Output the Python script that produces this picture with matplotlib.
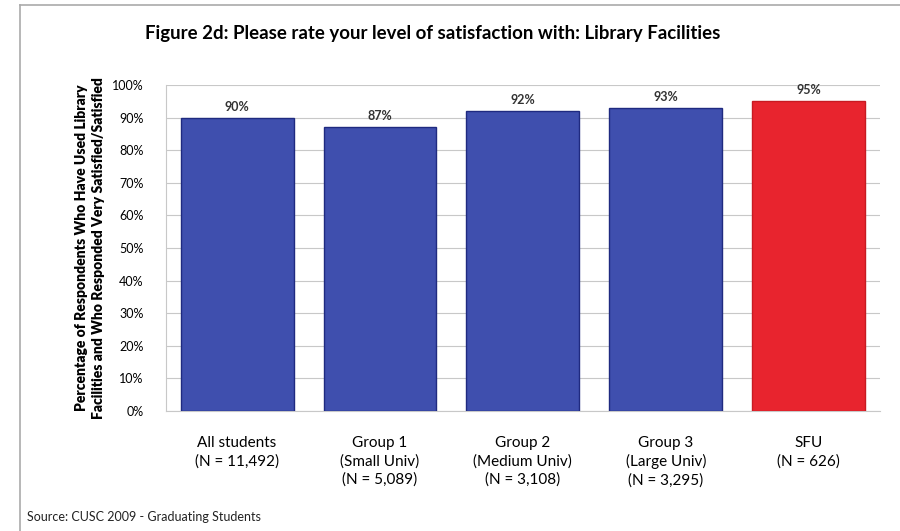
import matplotlib.pyplot as plt
from matplotlib.ticker import PercentFormatter
from matplotlib.lines import Line2D

categories = ["All students\n(N = 11,492)", "Group 1\n(Small Univ)\n(N = 5,089)",
              "Group 2\n(Medium Univ)\n(N = 3,108)", "Group 3\n(Large Univ)\n(N = 3,295)",
              "SFU\n(N = 626)"]
values = [90, 87, 92, 93, 95]
colors = ["#3f4fae", "#3f4fae", "#3f4fae", "#3f4fae", "#e8242e"]
edges = ["#1f2a80", "#1f2a80", "#1f2a80", "#1f2a80", "#c81a22"]

plt.rcParams["font.family"] = ["Lato", "DejaVu Sans"]

fig = plt.figure(figsize=(9, 5.31), dpi=100)
ax = fig.add_axes([0.184, 0.226, 0.794, 0.614])

x = range(len(categories))
ax.bar(x, values, width=0.79, color=colors, edgecolor=edges, linewidth=1, zorder=3)
for i, v in enumerate(values):
    ax.text(i, v + 1.5, f"{v}%", ha="center", va="bottom", fontsize=9,
            fontweight="bold", color="#333333")

ax.set_xlim(-0.5, len(categories) - 0.5)
ax.set_ylim(0, 100)
ax.set_yticks(range(0, 101, 10))
ax.yaxis.set_major_formatter(PercentFormatter(decimals=0))
ax.set_xticks(list(x))
ax.set_xticklabels(categories, fontsize=11, linespacing=1.35)
ax.tick_params(axis="x", length=0, pad=18)
ax.tick_params(axis="y", length=0, labelsize=9, pad=16)
ax.grid(axis="y", color="#c8c8c8", linewidth=0.8, zorder=0)
for s in ["top", "right", "bottom", "left"]:
    ax.spines[s].set_visible(False)
ax.spines["left"].set_visible(True)
ax.spines["left"].set_color("#c8c8c8")
ax.spines["bottom"].set_visible(True)
ax.spines["bottom"].set_color("#c8c8c8")

ax.set_ylabel("Percentage of Respondents Who Have Used Library\n"
              "Facilities and Who Responded Very Satisfied/Satisfied",
              fontsize=10, fontweight="heavy", labelpad=5, linespacing=1.35)

fig.text(0.481, 0.936, "Figure 2d: Please rate your level of satisfaction with: Library Facilities",
         ha="center", va="center", fontsize=13.4, fontweight="bold")
fig.text(0.03, 0.026, "Source: CUSC 2009 - Graduating Students", ha="left",
         va="center", fontsize=9, color="#222222")

# scanned frame
fig.add_artist(Line2D([0.022, 1.0], [0.99, 0.99], color="#aaaaaa", lw=1.2))
fig.add_artist(Line2D([0.022, 0.022], [0.0, 0.99], color="#aaaaaa", lw=1.2))

fig.savefig("out.png", dpi=100)
